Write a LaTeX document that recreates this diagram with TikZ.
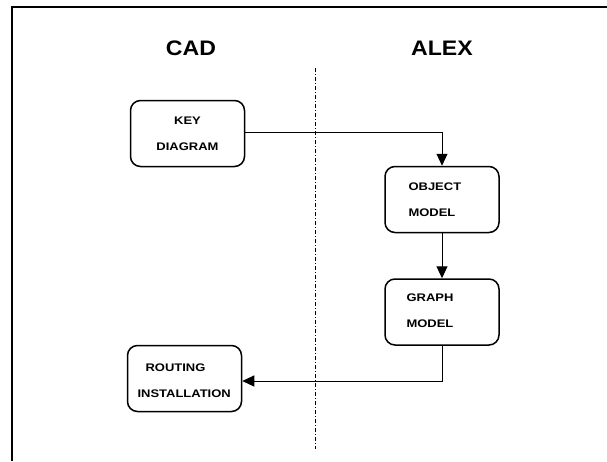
\documentclass[tikz,border=0pt]{standalone}
\usepackage{fontspec}
\setmainfont{Liberation Sans}
\newfontfamily\boxfont[FakeStretch=1.18]{Liberation Sans}
\newfontfamily\headfont[FakeStretch=1.1]{Liberation Sans}
\usetikzlibrary{arrows.meta}
\begin{document}
\begin{tikzpicture}[x=1pt,y=-1pt,
  stage/.style={draw,line width=1.5pt,rounded corners=10pt,minimum width=114pt,
    minimum height=66pt,inner sep=0pt},
  label/.style={font=\boxfont\bfseries\fontsize{11}{26}\selectfont,align=left},
  head/.style={font=\headfont\bfseries\fontsize{21}{24}\selectfont},
  flow/.style={line width=1pt,-{Triangle[length=12pt,width=11pt]}},
  frame/.style={line width=1.6pt},
  divider/.style={line width=0.8pt,dash pattern=on 4pt off 2pt on 1pt off 2pt}]
\useasboundingbox (0,0) rectangle (607,461);
% open frame: top and left edges
\draw[frame] (12,461) -- (12,7) -- (607,7);
% column headings
\node[head] (cad) at (191,48.5) {CAD};
\node[head] (alex) at (442,48.5) {ALEX};
% column divider
\coordinate (dtop) at (315,68);
\coordinate (dbot) at (315,449);
\draw[divider] (dtop) -- (dbot);
% stages
\node[stage] (key) at (187.5,133.5) {};
\node[label,align=center] at (key) {KEY\\DIAGRAM};
\node[stage] (obj) at (442,199.5) {};
\node[label,anchor=west] at (405,199.5) {OBJECT\\MODEL};
\node[stage] (graph) at (442,312) {};
\node[label,anchor=west] at (403,311) {GRAPH\\MODEL};
\node[stage] (route) at (184.5,378.5) {};
\node[label,anchor=west] at (134,381) {\hspace*{8pt}ROUTING\\INSTALLATION};
% connectors
\draw[flow] (key.east |- 0,132) -| (obj.north);
\draw[flow] (obj.south) -- (graph.north);
\draw[flow] (graph.south) |- (route.east |- 0,381);
\end{tikzpicture}
\end{document}
